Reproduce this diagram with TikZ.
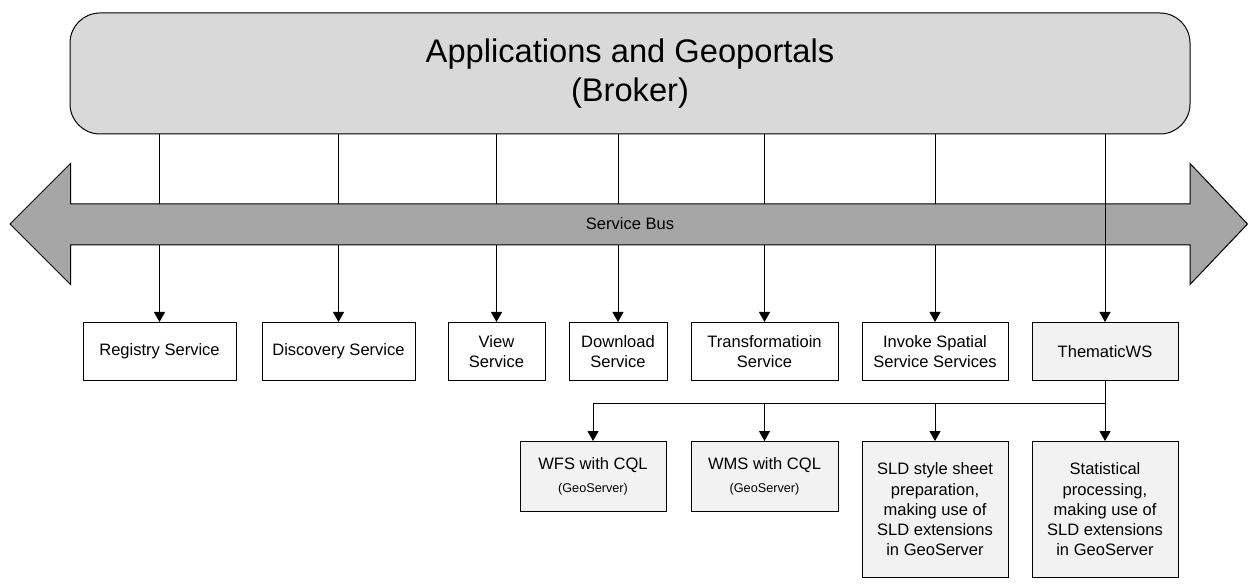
\documentclass[tikz,border=0pt]{standalone}
\usepackage{fontspec}
\setmainfont{Liberation Sans}
\usetikzlibrary{positioning, arrows.meta}
\definecolor{brokergray}{HTML}{D9D9D9}
\definecolor{busgray}{HTML}{A6A6A6}
\definecolor{wsgray}{HTML}{F2F2F2}
\tikzset{
x=0.75pt, y=-0.75pt, % one unit is one pixel, y runs downwards
>={Triangle[length=7.5pt,width=8.25pt]}, % filled arrow heads
every path/.style={line width=0.75pt},
broker/.style={draw, fill=brokergray, rounded corners=22.5pt, align=center,
  minimum width=840pt, minimum height=90.75pt, font=\fontsize{24.5}{29.25}\selectfont},
service/.style={draw, fill=white, align=center, inner sep=1pt, minimum height=43.5pt,
  font=\fontsize{12.4}{15.2}\selectfont}, % boxes under the bus
wsbox/.style={service, fill=wsgray}, % thematic boxes
}

\begin{document}
\begin{tikzpicture}
\useasboundingbox (0,0) rectangle (1248,584);

% broker on top
\node[broker] (apps) at (630,73.5) {Applications and Geoportals\\(Broker)};

% services
\node[service, minimum width=114.75pt] (reg) at (159.5,351.5) {Registry Service};
\node[service, minimum width=114.75pt] (disc) at (338.5,351.5) {Discovery Service};
\node[service, minimum width=72.75pt] (view) at (496.5,351.5) {View\\Service};
\node[service, minimum width=73.5pt] (down) at (618,351.5) {Download\\Service};
\node[service, minimum width=110.25pt] (trans) at (764.5,351.5) {Transformatioin\\Service};
\node[service, minimum width=109.5pt] (invoke) at (935,351.5) {Invoke Spatial\\Service Services};
\node[wsbox, minimum width=109.5pt] (them) at (1105,351.5) {ThematicWS};

% what ThematicWS uses
\node[wsbox, minimum width=110.25pt, minimum height=52.5pt, below=45pt of trans] (wms)
  {WMS with CQL\\[2pt]{\fontsize{9.5}{11}\selectfont (GeoServer)}};
\node[wsbox, minimum width=109.5pt, minimum height=52.5pt, left=18pt of wms] (wfs)
  {WFS with CQL\\[2pt]{\fontsize{9.5}{11}\selectfont (GeoServer)}};
\node[wsbox, minimum width=109.5pt, minimum height=102pt, below=45pt of invoke] (sld)
  {SLD style sheet\\preparation,\\making use of\\SLD extensions\\in GeoServer};
\node[wsbox, minimum width=109.5pt, minimum height=102pt, below=45pt of them] (stat)
  {Statistical\\processing,\\making use of\\SLD extensions\\in GeoServer};

% connectors hidden by the bus
\foreach \s in {reg, disc, view, down, trans, invoke}
  \draw[->] (apps.south -| \s.north) -- (\s.north);

% service bus
\draw[fill=busgray] (10,224) -- (70.5,163.5) -- (70.5,204) -- (1190,204) -- (1190,163.5)
  -- (1247.5,224) -- (1190,284.5) -- (1190,245) -- (70.5,245) -- (70.5,284.5) -- cycle;
\node[font=\fontsize{12.4}{15}\selectfont] (bus) at (630,224) {Service Bus};

% this one runs over the bus
\draw[->] (apps.south -| them.north) -- (them.north);

% fork below ThematicWS
\coordinate (fork) at (1105,403);
\draw (them.south) -- (fork);
\draw[->] (fork) -| (wfs.north);
\draw[->] (fork) -| (wms.north);
\draw[->] (fork) -| (sld.north);
\draw[->] (fork) -- (stat.north);
\end{tikzpicture}
\end{document}
